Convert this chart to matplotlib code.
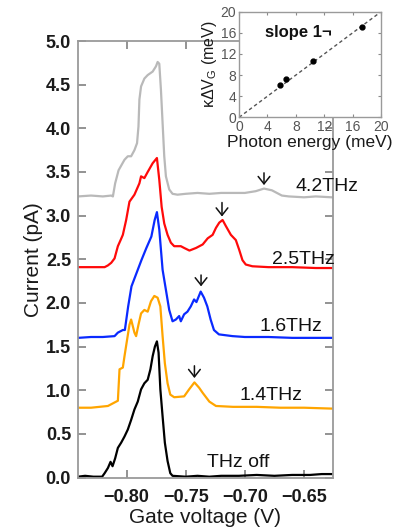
import matplotlib
matplotlib.use("Agg")
import matplotlib.pyplot as plt

plt.rcParams['font.family'] = ['Liberation Sans', 'DejaVu Sans']
plt.rcParams['mathtext.fontset'] = 'custom'
plt.rcParams['mathtext.rm'] = 'Liberation Sans'
plt.rcParams['mathtext.it'] = 'Liberation Sans:italic'

# ---------------- data (gate voltage V, current pA) ----------------
x_42 = [-0.841, -0.830, -0.820, -0.8129, -0.8115, -0.8096, -0.8067, -0.8017, -0.7989, -0.7961,
        -0.7933, -0.7911, -0.7899, -0.7891, -0.7877, -0.7849, -0.7821, -0.7779, -0.7751, -0.7737,
        -0.7723, -0.7709, -0.7695, -0.7681, -0.7667, -0.7639, -0.7611, -0.7569, -0.750, -0.740,
        -0.730, -0.720, -0.710, -0.700, -0.6908, -0.6838, -0.6771, -0.6729, -0.6687, -0.6628,
        -0.650, -0.640, -0.6266]
y_42 = [3.22, 3.23, 3.22, 3.23, 3.22, 3.37, 3.52, 3.64, 3.68, 3.68,
        3.75, 3.83, 4.02, 4.33, 4.48, 4.57, 4.61, 4.65, 4.71, 4.76,
        4.74, 4.44, 4.06, 3.68, 3.45, 3.30, 3.25, 3.24, 3.25, 3.26,
        3.25, 3.26, 3.26, 3.26, 3.28, 3.31, 3.29, 3.26, 3.23, 3.22,
        3.21, 3.22, 3.21]

x_25 = [-0.841, -0.830, -0.8185, -0.8157, -0.8129, -0.8101, -0.8073, -0.8050, -0.8031, -0.8003,
        -0.7975, -0.7933, -0.7891, -0.7877, -0.7849, -0.7821, -0.7779, -0.7743, -0.7723, -0.7703,
        -0.7681, -0.7653, -0.7625, -0.7597, -0.7541, -0.7513, -0.7468, -0.7412, -0.7356, -0.7314,
        -0.7272, -0.7244, -0.7216, -0.7188, -0.7160, -0.7118, -0.7076, -0.7048, -0.7020, -0.6992,
        -0.6936, -0.680, -0.660, -0.640, -0.6266]
y_25 = [2.41, 2.41, 2.41, 2.43, 2.46, 2.51, 2.65, 2.72, 2.78, 2.95,
        3.16, 3.24, 3.37, 3.45, 3.43, 3.50, 3.60, 3.66, 3.41, 3.10,
        2.91, 2.78, 2.69, 2.65, 2.65, 2.63, 2.60, 2.63, 2.67, 2.74,
        2.78, 2.86, 2.92, 2.95, 2.88, 2.78, 2.72, 2.61, 2.49, 2.44,
        2.42, 2.41, 2.41, 2.40, 2.40]

x_16 = [-0.841, -0.830, -0.820, -0.8101, -0.8073, -0.8031, -0.8014, -0.7986, -0.7958, -0.7916,
        -0.7874, -0.7832, -0.7790, -0.7762, -0.7743, -0.7723, -0.7695, -0.7667, -0.7639, -0.7611,
        -0.7583, -0.7555, -0.7541, -0.7513, -0.7485, -0.7457, -0.7429, -0.7409, -0.7373, -0.7345,
        -0.7317, -0.7289, -0.7261, -0.7219, -0.7104, -0.700, -0.680, -0.660, -0.640, -0.6266]
y_16 = [1.60, 1.61, 1.61, 1.62, 1.66, 1.69, 1.69, 1.96, 2.19, 2.34,
        2.49, 2.63, 2.76, 2.95, 3.04, 2.84, 2.38, 2.15, 1.92, 1.79,
        1.81, 1.85, 1.79, 1.87, 1.90, 1.96, 2.04, 2.01, 2.13, 2.06,
        1.96, 1.81, 1.69, 1.64, 1.62, 1.61, 1.61, 1.60, 1.60, 1.60]

x_14 = [-0.841, -0.830, -0.8157, -0.8129, -0.8073, -0.8059, -0.8031, -0.8017, -0.7995, -0.7975,
        -0.7961, -0.7933, -0.7919, -0.7899, -0.7877, -0.7849, -0.7821, -0.7793, -0.7765, -0.7737,
        -0.7714, -0.7695, -0.7676, -0.7653, -0.7630, -0.7597, -0.7513, -0.7471, -0.7426, -0.7387,
        -0.7356, -0.7300, -0.7244, -0.710, -0.690, -0.670, -0.650, -0.6266]
y_14 = [0.80, 0.80, 0.82, 0.84, 0.88, 1.24, 1.26, 1.39, 1.58, 1.75,
        1.81, 1.66, 1.62, 1.75, 1.88, 1.92, 1.90, 2.02, 2.08, 2.06,
        1.96, 1.62, 1.31, 1.08, 0.95, 0.92, 0.93, 1.01, 1.09, 1.03,
        0.97, 0.87, 0.82, 0.81, 0.81, 0.80, 0.80, 0.79]

x_off = [-0.841, -0.835, -0.828, -0.8206, -0.8185, -0.8157, -0.8135, -0.8118, -0.8096, -0.8073,
         -0.8045, -0.8017, -0.7989, -0.7961, -0.7933, -0.7905, -0.7877, -0.7849, -0.7821, -0.7798,
         -0.7779, -0.7760, -0.7743, -0.7729, -0.7714, -0.7695, -0.7676, -0.7653, -0.7630, -0.7611,
         -0.750, -0.740, -0.730, -0.720, -0.705, -0.690, -0.675, -0.660, -0.645, -0.635, -0.6266]
y_off = [0.01, 0.02, 0.01, 0.01, 0.05, 0.11, 0.18, 0.13, 0.22, 0.34,
         0.40, 0.47, 0.55, 0.66, 0.78, 0.87, 1.01, 1.08, 1.12, 1.24,
         1.39, 1.50, 1.56, 1.43, 1.01, 0.70, 0.40, 0.19, 0.05, 0.02,
         0.01, 0.02, 0.01, 0.02, 0.02, 0.03, 0.02, 0.03, 0.03, 0.04, 0.04]

series_labels = ["4.2THz", "2.5THz", "1.6THz", "1.4THz", "THz off"]
series_colors = ["#b9b9b9", "#ff0a0a", "#0a2aff", "#ffa500", "#000000"]
label_pos_x = [-0.657, -0.6771, -0.6880, -0.7048, -0.7317]
label_pos_y = [3.33, 2.50, 1.73, 0.94, 0.17]

# satellite-peak arrows: x, tip y, tail y
arrow_x = [-0.6838, -0.7193, -0.7370, -0.7426]
arrow_tip = [3.35, 2.99, 2.19, 1.14]
arrow_tail = [3.49, 3.15, 2.32, 1.28]

# inset: photon energy vs kappa*dVg (meV)
photon_energy = [5.79, 6.62, 10.34, 17.37]
kappa_dvg = [6.1, 7.3, 10.7, 17.1]
slope_x = [0, 20]
slope_y = [0, 20]

y_ticks = [0.0, 0.5, 1.0, 1.5, 2.0, 2.5, 3.0, 3.5, 4.0, 4.5, 5.0]
x_ticks = [-0.80, -0.75, -0.70, -0.65]
inset_ticks = [0, 4, 8, 12, 16, 20]

# ---------------- figure ----------------
fig = plt.figure(figsize=(4.14, 5.32), dpi=100)
ax = fig.add_axes([0.1884, 0.1015, 0.6159, 0.8214])

xs = [x_42, x_25, x_16, x_14, x_off]
ys = [y_42, y_25, y_16, y_14, y_off]
for xv, yv, c in zip(xs, ys, series_colors):
    ax.plot(xv, yv, color=c, lw=1.6, solid_joinstyle='round')

for lx, ly, t in zip(label_pos_x, label_pos_y, series_labels):
    ax.text(lx, ly, t, fontsize=14, ha='left', va='center', color='#111111', clip_on=False)

for axx, tip, tail in zip(arrow_x, arrow_tip, arrow_tail):
    ax.annotate('', xy=(axx, tip), xytext=(axx, tail),
                arrowprops=dict(arrowstyle='->,head_length=0.38,head_width=0.3',
                                lw=1.1, color='#111111', shrinkA=0, shrinkB=0,
                                mutation_scale=14))

ax.set_xlim(-0.841, -0.6255)
ax.set_ylim(-0.005, 5.0)
ax.set_yticks(y_ticks)
ax.set_yticklabels([f"{v:.1f}" for v in y_ticks])
ax.set_xticks(x_ticks)
ax.set_xticklabels([f"\u2212{abs(v):.2f}" for v in x_ticks])
for s in ax.spines.values():
    s.set_color('#9a9a9a')
    s.set_linewidth(1.3)
ax.tick_params(direction='in', length=6, width=1.3, color='#8a8a8a',
               top=True, right=True, labelsize=13, labelcolor='#1a1a1a')
ax.tick_params(axis='y', pad=5)
ax.tick_params(axis='x', pad=8)
for lab in ax.get_xticklabels() + ax.get_yticklabels():
    lab.set_fontweight('bold')
ax.set_ylabel("Current (pA)", fontsize=15, labelpad=2, color='#1a1a1a')
ax.set_xlabel("Gate voltage (V)", fontsize=15, labelpad=1, color='#1a1a1a')

# ---------------- inset ----------------
ins = fig.add_axes([0.5775, 0.7795, 0.343, 0.1985])
ins.plot(slope_x, slope_y, color='#555555', lw=1.0, ls=(0, (2.5, 2.0)))
ins.plot(photon_energy, kappa_dvg, 'o', color='black', ms=3.5)
ins.set_xlim(0, 20)
ins.set_ylim(0, 20)
ins.set_xticks(inset_ticks)
ins.set_yticks(inset_ticks)
for s in ins.spines.values():
    s.set_color('#9a9a9a')
    s.set_linewidth(1.0)
ins.tick_params(direction='in', length=2.5, width=0.8, color='#8a8a8a',
                top=True, right=True, labelsize=10, labelcolor='#555555', pad=2)
ins.text(3.6, 16.1, "slope 1\u00ac", fontsize=12, fontweight='bold', ha='left',
         va='center', color='#111111')
ins.set_xlabel("Photon energy (meV)", fontsize=12.5, labelpad=1, color='#1a1a1a')
ins.set_ylabel("\u03ba\u0394V$_\\mathregular{G}$ (meV)", fontsize=11.5, labelpad=1, color='#1a1a1a')

fig.savefig("out.png", dpi=100)
